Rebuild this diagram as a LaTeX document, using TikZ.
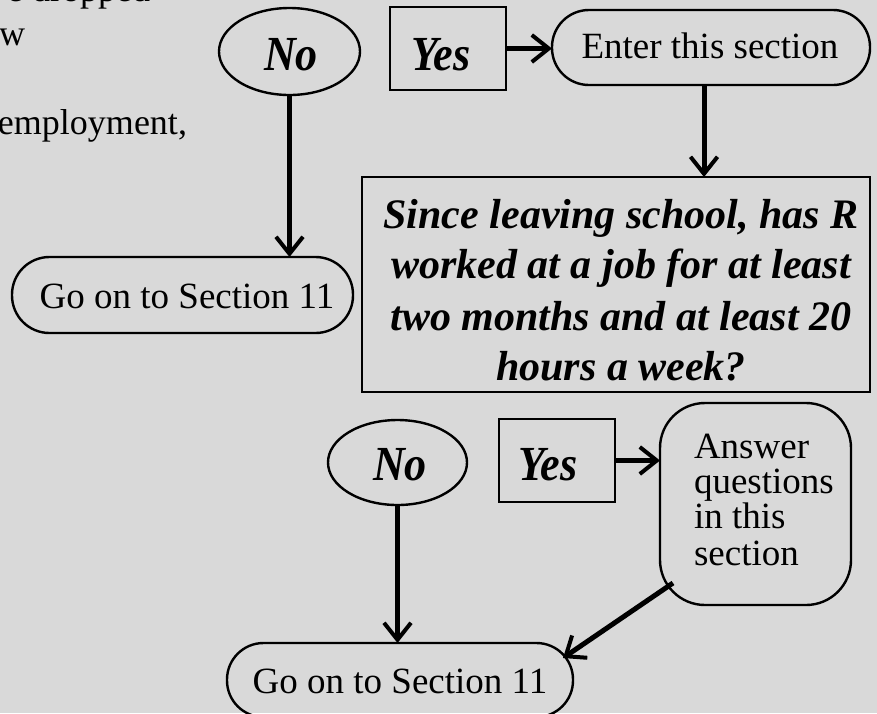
\documentclass[tikz,border=0pt]{standalone}
\usepackage{fontspec}
\usepackage{graphicx}
\setmainfont{Liberation Serif}
\usetikzlibrary{arrows.meta,shapes.geometric}
\definecolor{bggray}{RGB}{217,217,217}
\newcommand{\setfs}[1]{\fontsize{#1}{#1}\selectfont}
\newcommand{\narrow}[1]{\scalebox{0.9}[1]{#1}}
\begin{document}
\begin{tikzpicture}[x=1pt,y=-1pt,
  shp/.style={draw, line width=2.4pt, inner sep=0pt, outer sep=0pt},
  oval/.style={shp, ellipse},
  box/.style={shp, rectangle},
  txt/.style={inner sep=0pt, outer sep=0pt, anchor=base},
  bi/.style={font=\setfs{49}\bfseries\itshape},
  qf/.style={font=\setfs{42}\bfseries\itshape},
  rm/.style={font=\setfs{37}},
  arr/.style={line width=5pt, -{Straight Barb[length=17pt,width=27pt,line width=4pt]}}]
\fill[bggray] (0,0) rectangle (877,713);
\useasboundingbox (0,0) rectangle (877,713);

% cut-off text at top left
\node[txt, anchor=base east, font=\setfs{36}] (t1) at (150,1.5) {e dropped};
\node[txt, anchor=base west, font=\setfs{36}] (t2) at (-1,45) {w};
\node[txt, anchor=base west, font=\setfs{36}] (t3) at (-2,134) {employment,};

% shapes
\node[oval, minimum width=141pt, minimum height=87pt] (no1) at (289.5,51.5) {};
\node[box, minimum width=116pt, minimum height=83pt] (yes1) at (448,48.5) {};
\node[box, rounded corners=37pt, minimum width=318pt, minimum height=75pt] (enter) at (711,47.5) {};
\node[box, minimum width=508pt, minimum height=215pt] (quest) at (616,284.5) {};
\node[box, rounded corners=37.5pt, minimum width=341pt, minimum height=76pt] (go1) at (182.5,295) {};
\node[oval, minimum width=139pt, minimum height=85pt] (no2) at (397.5,462.5) {};
\node[box, minimum width=116pt, minimum height=83pt] (yes2) at (557,460.5) {};
\node[box, rounded corners=45pt, minimum width=191pt, minimum height=202pt] (ans) at (755.5,504) {};
\node[box, rounded corners=36.5pt, minimum width=346pt, minimum height=74pt] (go2) at (400,680) {};

% texts
\node[txt, bi] (no1t) at (291,70) {\narrow{No}};
\node[txt, bi] (yes1t) at (441,70) {\narrow{Yes}};
\node[txt, rm] (entert) at (710,58) {Enter this section};
\node[txt, rm] (go1t) at (187,308) {Go on to Section 11};
\node[txt, qf] (q1) at (621,228) {Since leaving school, has R};
\node[txt, qf] (q2) at (621,278) {worked at a job for at least};
\node[txt, qf] (q3) at (621,330) {two months and at least 20};
\node[txt, qf] (q4) at (621,380) {hours a week?};
\node[txt, bi] (no2t) at (400,480) {\narrow{No}};
\node[txt, bi] (yes2t) at (548,480) {\narrow{Yes}};
\node[txt, rm, anchor=base west] (a1) at (694,458) {Answer};
\node[txt, rm, anchor=base west] (a2) at (694,493) {questions};
\node[txt, rm, anchor=base west] (a3) at (694,528) {in this};
\node[txt, rm, anchor=base west] (a4) at (694,565) {section};
\node[txt, rm] (go2t) at (400,693) {Go on to Section 11};

% connectors
\draw[arr] (no1.south) -- (no1.south |- go1.north);
\draw[arr] (yes1.east) -- (yes1.east -| enter.west);
\draw[arr] ([xshift=-7pt]enter.south) -- ([xshift=-7pt]enter.south |- quest.north);
\draw[arr] (no2.south) -- (no2.south |- go2.north);
\draw[arr] (yes2.east) -- (yes2.east -| ans.west);
\coordinate (ansout) at ([shift={(13,-22)}]ans.south west);
\coordinate (goin) at ([shift={(-10,15)}]go2.north east);
\draw[arr] (ansout) -- (goin);
\end{tikzpicture}
\end{document}
